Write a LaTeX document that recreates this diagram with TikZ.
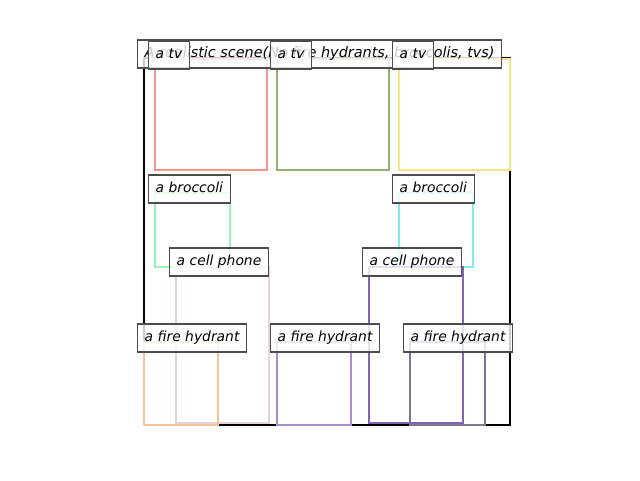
\documentclass[tikz,border=0pt]{standalone}
\usepackage{fontspec}
\usepackage{tikz}
\usepackage{xcolor}
\newfontfamily\lblfont{DejaVu Sans}
\definecolor{tvred}{HTML}{F4968C}
\definecolor{tvgreen}{HTML}{8FB070}
\definecolor{tvyellow}{HTML}{F5E68C}
\definecolor{brgreen}{HTML}{96F5B4}
\definecolor{brcyan}{HTML}{82EBE6}
\definecolor{phpink}{HTML}{E6D2D7}
\definecolor{phpurple}{HTML}{8064B4}
\definecolor{fhorange}{HTML}{F5C396}
\definecolor{fhlilac}{HTML}{AA8CC8}
\definecolor{fhslate}{HTML}{787896}

\begin{document}
\begin{tikzpicture}[x=0.75pt,y=-0.75pt,
  bbox/.style={line width=1.9pt},
  lbl/.style={draw=black!70,line width=0.8pt,fill=white,fill opacity=0.8,text opacity=1,
    font=\lblfont\itshape\fontsize{10.4}{12}\selectfont,anchor=west,
    inner xsep=5.4pt,inner ysep=0pt,minimum height=21pt,text height=8pt,text depth=2.4pt}]
\useasboundingbox (0,0) rectangle (640,480);
\draw[line width=2.2pt](144,58) rectangle (510,425);
\draw[bbox,tvred](155,59) rectangle (267,170);
\draw[bbox,tvgreen](277,59) rectangle (389,170);
\draw[bbox,tvyellow](399,59) rectangle (510,170);
\draw[bbox,brgreen](155,193) rectangle (230,267);
\draw[bbox,brcyan](399,193) rectangle (473,267);
\draw[bbox,phpink](176,267) rectangle (269,423);
\draw[bbox,phpurple](369,267) rectangle (463,423);
\draw[bbox,fhorange](144,342) rectangle (218,425);
\draw[bbox,fhlilac](277,342) rectangle (351,425);
\draw[bbox,fhslate](410,342) rectangle (485,425);
\node[lbl,font=\lblfont\itshape\fontsize{10.8}{12}\selectfont] (title) at (137,54) {A realistic scene(No fire hydrants, broccolis, tvs)};
\node[lbl] (tvA) at (148,55) {a tv};
\node[lbl] (tvB) at (270,55) {a tv};
\node[lbl] (tvC) at (392,55) {a tv};
\node[lbl] (brA) at (148,189) {a broccoli};
\node[lbl] (brB) at (392,189) {a broccoli};
\node[lbl] (phA) at (169,262) {a cell phone};
\node[lbl] (phB) at (362,262) {a cell phone};
\node[lbl] (fhA) at (137,338) {a fire hydrant};
\node[lbl] (fhB) at (270,338) {a fire hydrant};
\node[lbl] (fhC) at (403,338) {a fire hydrant};
\end{tikzpicture}
\end{document}
